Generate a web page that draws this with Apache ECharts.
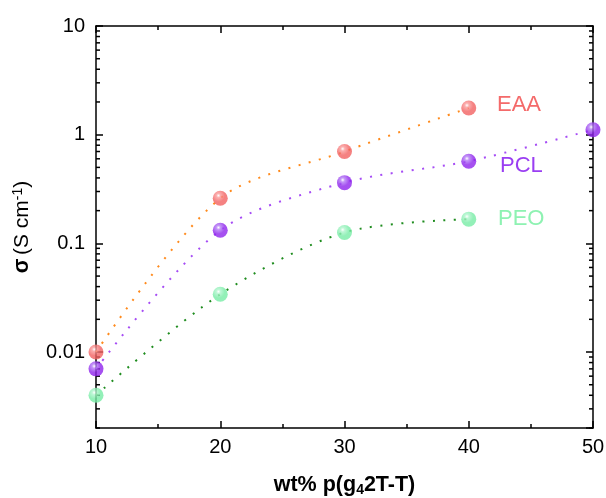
<!DOCTYPE html>
<html>
<head>
<meta charset="utf-8">
<script src="https://cdn.jsdelivr.net/npm/echarts@6/dist/echarts.min.js"></script>
<style>html,body{margin:0;padding:0;background:#fff}#c{width:606px;height:498px}</style>
</head>
<body>
<div id="c"></div>
<script>
const xValues = [10, 20, 30, 40, 50];
const eaa = [0.0100, 0.26, 0.70, 1.76];
const pcl = [0.0070, 0.132, 0.362, 0.57, 1.11];
const peo = [0.0040, 0.034, 0.126, 0.167];
const yTickLabels = ['0.01', '0.1', '1', '10'];
const minorMultipliers = [2, 3, 4, 5, 6, 7, 8, 9];
const decades = [0.001, 0.01, 0.1, 1];

const FONT = '"Liberation Sans", Arial, sans-serif';
const pair = arr => arr.map((v, i) => [xValues[i], v]);

const minorVals = [];
decades.forEach(d => minorMultipliers.forEach(m => {
  const v = +(d * m).toPrecision(3);
  if (v >= 0.002 && v <= 10) minorVals.push(v);
}));

function sphere(base, light) {
  return {
    type: 'radial', x: 0.38, y: 0.32, r: 0.7,
    colorStops: [
      {offset: 0, color: '#ffffff'},
      {offset: 0.2, color: light},
      {offset: 0.6, color: base},
      {offset: 1, color: base}
    ]
  };
}

const chart = echarts.init(document.getElementById('c'));
const axisLine = {show: true, onZero: false, lineStyle: {color: '#000', width: 1.5}};
chart.setOption({
  animation: false,
  backgroundColor: '#fff',
  grid: {left: 96, right: 13, top: 26, bottom: 70, containLabel: false, outerBoundsMode: 'none'},
  xAxis: [{
    type: 'value', min: 10, max: 50, interval: 10, position: 'bottom',
    axisLine: axisLine,
    axisTick: {show: true, inside: true, length: 7, lineStyle: {color: '#000', width: 1.5}},
    minorTick: {show: true, splitNumber: 2, length: 4, lineStyle: {color: '#000', width: 1.5}},
    splitLine: {show: false},
    axisLabel: {color: '#000', fontSize: 20, fontFamily: FONT, margin: 9},
    name: '{b|wt% p(g}{s|4}{b|2T-T)}',
    nameLocation: 'middle', nameGap: 46,
    nameTextStyle: {rich: {
      b: {fontSize: 21.5, fontWeight: 'bold', fontFamily: FONT, color: '#000'},
      s: {fontSize: 14, fontWeight: 'bold', fontFamily: FONT, color: '#000', verticalAlign: 'bottom', padding: [9, 0, 0, 0]}
    }}
  }, {
    type: 'value', min: 10, max: 50, interval: 10, position: 'top',
    axisLine: axisLine,
    axisTick: {show: true, inside: true, length: 7, lineStyle: {color: '#000', width: 1.5}},
    minorTick: {show: true, splitNumber: 2, length: 4, lineStyle: {color: '#000', width: 1.5}},
    splitLine: {show: false}, axisLabel: {show: false}
  }],
  yAxis: [{
    type: 'log', logBase: 10, min: 0.002, max: 10, position: 'left',
    axisLine: axisLine,
    axisTick: {show: true, inside: true, length: 7, lineStyle: {color: '#000', width: 1.5}},
    splitLine: {show: false},
    axisLabel: {color: '#000', fontSize: 20, fontFamily: FONT, margin: 11, showMinLabel: false,
      formatter: v => {
        const e = Math.round(Math.log10(v));
        if (Math.abs(Math.log10(v) - e) > 1e-6) return '';
        return yTickLabels[e + 2] || '';
      }},
    name: '{g|σ} {n|(S cm}{p|-1}{n|)}',
    nameLocation: 'middle', nameGap: 62, nameRotate: 90,
    nameTextStyle: {rich: {
      g: {fontSize: 21.5, fontWeight: 'bold', fontFamily: FONT, color: '#000'},
      n: {fontSize: 21, fontFamily: FONT, color: '#000'},
      p: {fontSize: 14, fontFamily: FONT, color: '#000', verticalAlign: 'top', padding: [0, 0, 9, 0]}
    }}
  }, {
    type: 'log', logBase: 10, min: 0.002, max: 10, position: 'right',
    axisLine: axisLine,
    axisTick: {show: true, inside: true, length: 7, lineStyle: {color: '#000', width: 1.5}},
    splitLine: {show: false}, axisLabel: {show: false}
  }],
  series: [
    {
      type: 'custom', xAxisIndex: 0, yAxisIndex: 0, silent: true, clip: false,
      data: minorVals.map(v => [v]),
      encode: {y: 0},
      renderItem: (params, api) => {
        const v = api.value(0);
        const l = api.coord([10, v]);
        const r = api.coord([50, v]);
        const st = {stroke: '#000', lineWidth: 1.5};
        return {type: 'group', children: [
          {type: 'line', shape: {x1: l[0], y1: l[1], x2: l[0] + 4, y2: l[1]}, style: st},
          {type: 'line', shape: {x1: r[0], y1: r[1], x2: r[0] - 4, y2: r[1]}, style: st}
        ]};
      }
    },
    {type: 'line', data: pair(eaa), smooth: 0.3, symbol: 'none', z: 2,
      lineStyle: {color: '#ff8a1c', width: 2, type: [2, 8.5]}},
    {type: 'line', data: pair(pcl), smooth: 0.3, symbol: 'none', z: 2,
      lineStyle: {color: '#a64cf5', width: 2, type: [2, 8.5]}},
    {type: 'line', data: pair(peo), smooth: 0.3, symbol: 'none', z: 2,
      lineStyle: {color: '#1e8c1e', width: 2, type: [2, 8.5]}},
    {type: 'scatter', data: pair(eaa), symbolSize: 15, clip: false, z: 5,
      itemStyle: {color: sphere('#f26262', '#fa9a9a')}},
    {type: 'scatter', data: pair(pcl), symbolSize: 15, clip: false, z: 5,
      itemStyle: {color: sphere('#8f25ec', '#b47cf5')}},
    {type: 'scatter', data: pair(peo), symbolSize: 15, clip: false, z: 5,
      itemStyle: {color: sphere('#78eca6', '#aef5cc')}}
  ],
  graphic: [
    {type: 'text', left: 497, top: 94, style: {text: 'EAA', fill: '#f46a6a', font: '22px ' + FONT}},
    {type: 'text', left: 500, top: 155, style: {text: 'PCL', fill: '#9a3ef2', font: '22px ' + FONT}},
    {type: 'text', left: 498, top: 208, style: {text: 'PEO', fill: '#8ef2b2', font: '22px ' + FONT}}
  ]
});
</script>
</body>
</html>
